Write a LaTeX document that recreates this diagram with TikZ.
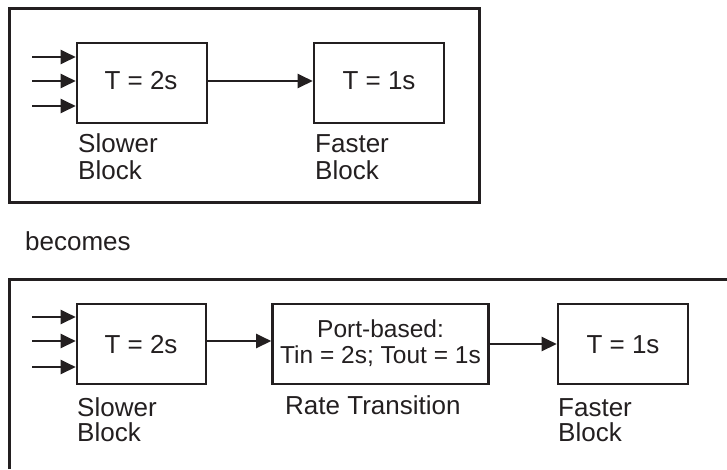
\documentclass[tikz,border=0pt]{standalone}
\usepackage{fontspec}
\setmainfont{Liberation Sans}
\usetikzlibrary{arrows.meta}
\definecolor{ink}{HTML}{231F20}
\begin{document}
\begin{tikzpicture}[x=1pt,y=-1pt,
  font=\fontsize{26}{28}\selectfont,
  frame/.style={draw=ink,line width=3pt},
  blk/.style={draw=ink,line width=2.6pt,inner sep=0pt,text=ink},
  arr/.style={draw=ink,line width=2.4pt,-{Triangle[length=15pt,width=14pt]}},
  lbl/.style={anchor=base west,inner sep=0pt,text=ink,align=left},
  val/.style={anchor=base,inner sep=0pt,text=ink}]
\useasboundingbox (0,0) rectangle (727,469);
% ---------- top diagram ----------
\draw[frame] (9,8) rectangle (479,202);
\node[blk,minimum width=130pt,minimum height=80pt] (sb1) at (142,83) {};
\node[blk,minimum width=130pt,minimum height=80pt] (fb1) at (379,83) {};
\node[val] (t1a) at (141,89) {T = 2s};
\node[val] (t1b) at (379,89) {T = 1s};
\coordinate (i1a) at (32,57);
\coordinate (i1b) at (32,81);
\coordinate (i1c) at (32,106);
\draw[arr] (i1a) -- (i1a -| sb1.west);
\draw[arr] (i1b) -- (i1b -| sb1.west);
\draw[arr] (i1c) -- (i1c -| sb1.west);
\draw[arr] (sb1.east |- i1b) -- (fb1.west |- i1b);
\node[lbl] (ls1) at (78,152) {Slower};
\node[lbl] (lb1) at (78,179) {Block};
\node[lbl] (lf1) at (315,152) {Faster};
\node[lbl] (lg1) at (315,179) {Block};
% ---------- becomes ----------
\node[lbl] (bec) at (25,250) {becomes};
% ---------- bottom diagram ----------
\draw[frame] (9,469) -- (9,279) -- (727,279);
\node[blk,minimum width=129pt,minimum height=80pt] (sb2) at (141.5,344) {};
\node[blk,minimum width=216pt,minimum height=80pt] (rt) at (380.5,344) {};
\node[blk,minimum width=130pt,minimum height=80pt] (fb2) at (623,344) {};
\node[val] (t2a) at (141,353) {T = 2s};
\node[val] (t2b) at (623,353) {T = 1s};
\node[val,font=\fontsize{24.5}{26}\selectfont] (rt1) at (380.5,337) {Port-based:};
\node[val,font=\fontsize{24.5}{26}\selectfont] (rt2) at (380.5,363) {Tin = 2s; Tout = 1s};
\coordinate (i2a) at (32,317);
\coordinate (i2b) at (32,341);
\coordinate (i2c) at (32,367);
\draw[arr] (i2a) -- (i2a -| sb2.west);
\draw[arr] (i2b) -- (i2b -| sb2.west);
\draw[arr] (i2c) -- (i2c -| sb2.west);
\draw[arr] (sb2.east |- i2b) -- (rt.west |- i2b);
\draw[arr] (rt.east) -- (fb2.west);
\node[lbl] (ls2) at (77,416) {Slower};
\node[lbl] (lb2) at (77,441) {Block};
\node[lbl] (lr2) at (285,414) {Rate Transition};
\node[lbl] (lf2) at (558,416) {Faster};
\node[lbl] (lg2) at (558,441) {Block};
\end{tikzpicture}
\end{document}
